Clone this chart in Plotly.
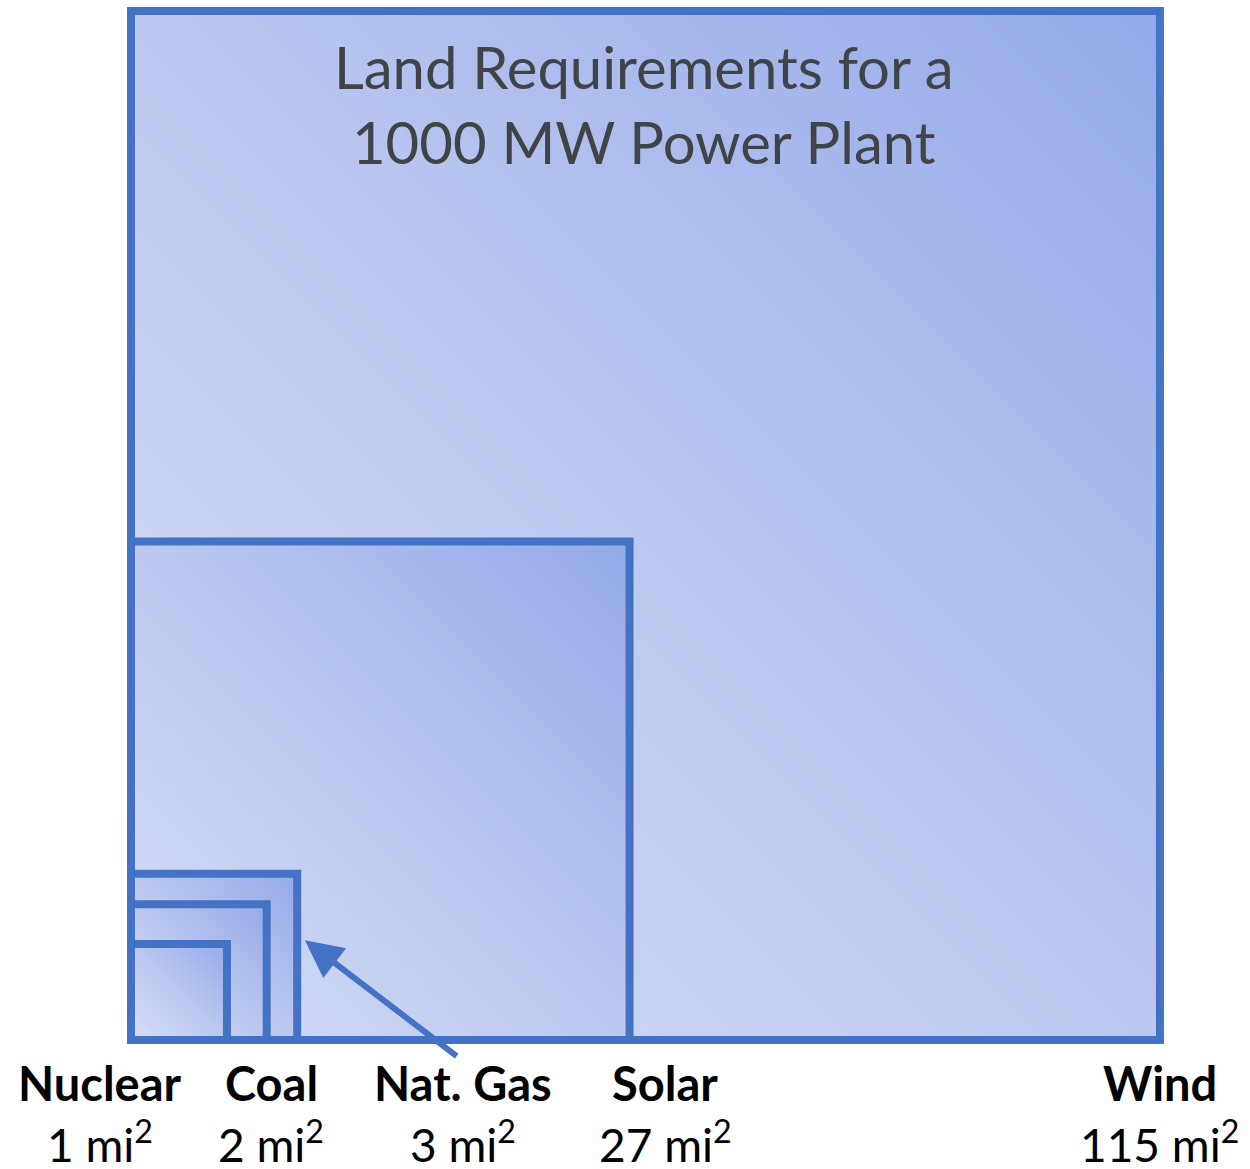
import numpy as np
import plotly.graph_objects as go

# ---- data ----
sources = ["Nuclear", "Coal", "Nat. Gas", "Solar", "Wind"]
areas_mi2 = [1, 2, 3, 27, 115]
title_text = "Land Requirements for a<br>1000 MW Power Plant"

# ---- layout helpers (positions in data units = sqrt(mi2)) ----
label_x = [-0.32, 1.46, 3.46, 5.57, 10.72]
BORDER = "#4472C4"
grad_scale = [[0.0, "#d6def6"], [0.5, "#bcc8f0"], [1.0, "#94a9e9"]]

sides = [float(np.sqrt(a)) for a in areas_mi2]

fig = go.Figure()

# gradient fills, largest first so the smaller ones sit on top
N = 60
for name, s in sorted(zip(sources, sides), key=lambda t: -t[1]):
    edges = np.linspace(0, s, N + 1)
    centers = (edges[:-1] + edges[1:]) / 2
    X, Y = np.meshgrid(centers, centers)
    Z = (X + Y) / (2 * s)
    fig.add_trace(go.Heatmap(
        x=edges, y=edges, z=Z, colorscale=grad_scale, zmin=0, zmax=1,
        showscale=False, hoverinfo="skip", zsmooth="best", name=name))

# outlines
for s in sorted(sides, reverse=True):
    fig.add_shape(type="rect", x0=0, y0=0, x1=s, y1=s, xref="x", yref="y",
                  line=dict(color=BORDER, width=8), fillcolor="rgba(0,0,0,0)",
                  layer="above")

# labels
for name, a, lx in zip(sources, areas_mi2, label_x):
    fig.add_annotation(x=lx, y=-0.45, xref="x", yref="y", text=f"<b>{name}</b>",
                       showarrow=False, xanchor="center", yanchor="middle",
                       font=dict(family="Lato", size=47, color="#000000"))
    fig.add_annotation(x=lx, y=-1.06, xref="x", yref="y", text=f"{a} mi<sup>2</sup>",
                       showarrow=False, xanchor="center", yanchor="middle", borderpad=0,
                       font=dict(family="Lato", size=46, color="#000000"))

# arrow pointing to Nat. Gas square
gas_side = sides[sources.index("Nat. Gas")]
fig.add_annotation(x=gas_side + 0.08, y=gas_side * 0.6, ax=3.41, ay=-0.18,
                   xref="x", yref="y", axref="x", ayref="y", text="",
                   showarrow=True, arrowhead=2, arrowsize=1.25, arrowwidth=6,
                   arrowcolor=BORDER, standoff=0)

# title
fig.add_annotation(x=5.35, y=9.75, xref="x", yref="y", text=title_text,
                   showarrow=False, xanchor="center", yanchor="middle",
                   font=dict(family="Lato", size=58, color="#404448"))

scale = 95.95
fig.update_layout(
    width=1250, height=1169, margin=dict(l=0, r=0, t=0, b=0),
    paper_bgcolor="white", plot_bgcolor="white", showlegend=False,
    xaxis=dict(range=[-131 / scale, (1250 - 131) / scale], visible=False, fixedrange=True),
    yaxis=dict(range=[-(1169 - 1040) / scale, 1040 / scale], visible=False, fixedrange=True),
)

fig.write_html("out.html", config={"displayModeBar": False},
               post_script="document.body.style.margin='0px';document.body.style.overflow='hidden';")
